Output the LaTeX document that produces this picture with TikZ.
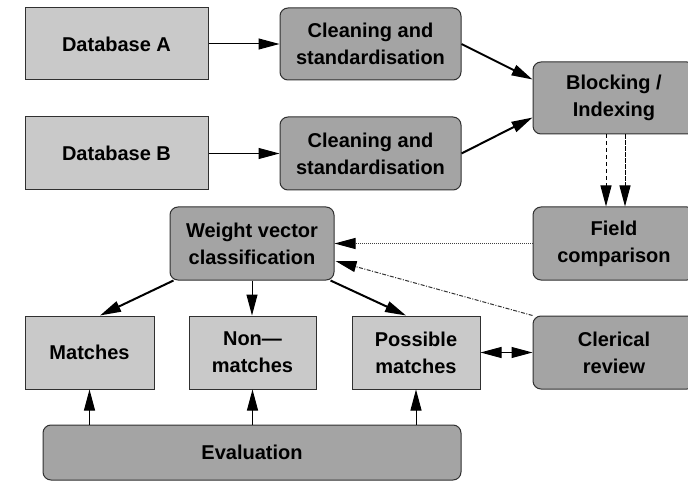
\documentclass[tikz,border=0pt]{standalone}
\usepackage{fontspec}
\setmainfont{Liberation Sans}
\usetikzlibrary{arrows.meta,calc}

\definecolor{boxlight}{HTML}{C9C9C9}
\definecolor{boxdark}{HTML}{A4A4A4}
\definecolor{edge}{HTML}{303030}

\tikzset{
  base/.style={draw=edge, line width=1pt, inner sep=0pt, align=center,
    font=\fontsize{20}{27}\selectfont\bfseries},
  datastore/.style={base, fill=boxlight},
  process/.style={base, fill=boxdark, rounded corners=8pt},
  tip/.style={-{Triangle[length=21pt,width=11pt,color=black]}},
  flow/.style={tip, line width=1pt, black},
  thickflow/.style={tip, line width=2pt, black},
  dashflow/.style={tip, line width=1pt, black, dash pattern=on 4pt off 3pt},
  fineflow/.style={tip, line width=1pt, black, dash pattern=on 5pt off 1pt},
  dotflow/.style={tip, line width=1pt, black!75, dash pattern=on 1pt off 1pt},
  dashdotflow/.style={tip, line width=1pt, black!80, dash pattern=on 4pt off 1.5pt on 1pt off 1.5pt},
  bothflow/.style={{Triangle[length=21pt,width=11pt]}-{Triangle[length=21pt,width=11pt]}, line width=1pt, black},
}

\begin{document}
\begin{tikzpicture}[x=1pt, y=-1pt]
\useasboundingbox (0,0) rectangle (688,481);
\clip (0,0) rectangle (688,481);

% data sources
\node[datastore, minimum width=183pt, minimum height=72pt] (dbA) at (116.5,44) {Database A};
\node[datastore, minimum width=183pt, minimum height=73pt] (dbB) at (116.5,153.5) {Database B};

% cleaning steps
\node[process, minimum width=181pt, minimum height=72pt] (clA) at (370.5,44) {Cleaning and\\standardisation};
\node[process, minimum width=181pt, minimum height=73pt] (clB) at (370.5,153.5) {Cleaning and\\standardisation};

% blocking and comparison (their right sides run past the page edge)
\node[process, minimum width=162pt, minimum height=72pt] (blk) at (614,98) {Blocking /\\Indexing};
\node[process, minimum width=162pt, minimum height=73pt] (fld) at (614,243.5) {Field\\comparison};

% classification
\node[process, minimum width=164pt, minimum height=73pt] (wgt) at (252,243.5) {Weight vector\\classification};

% outcomes
\node[datastore, minimum width=129pt, minimum height=73pt] (mat) at (89.5,352.5) {Matches};
\node[datastore, minimum width=127pt, minimum height=73pt] (non) at (252.5,352.5) {Non—\\matches};
\node[datastore, minimum width=128pt, minimum height=73pt] (pos) at (416,352.5) {Possible\\matches};
\node[process, minimum width=162pt, minimum height=73pt] (cle) at (614,352.5) {Clerical\\review};

% evaluation
\node[process, minimum width=418pt, minimum height=55pt] (eva) at (252,452.5) {Evaluation};

% connectors
\draw[flow] (dbA.east) -- (clA.west);
\draw[flow] (dbB.east) -- (clB.west);
\draw[thickflow] (clA.east) -- ($(blk.north west)+(0,18)$);
\draw[thickflow] (clB.east) -- ($(blk.south west)+(0,-17)$);
\draw[dashflow] ($(blk.south)+(-8,0)$) -- ($(fld.north)+(-8,0)$);
\draw[fineflow] ($(blk.south)+(11,0)$) -- ($(fld.north)+(11,0)$);
\draw[dotflow] (fld.west) -- (wgt.east);
\draw[dashdotflow] (cle.north west) -- ($(wgt.east)+(1,17.5)$);
\draw[thickflow] ($(wgt.south west)+(4,0)$) -- ($(mat.north)+(10.5,0)$);
\draw[flow] (wgt.south) -- (wgt.south |- non.north);
\draw[thickflow] ($(wgt.south east)+(-4,0)$) -- ($(pos.north)+(-10,0)$);
\draw[bothflow] (pos.east) -- (cle.west);
\draw[flow] (mat.south |- eva.north) -- (mat.south);
\draw[flow] (non.south |- eva.north) -- (non.south);
\draw[flow] (pos.south |- eva.north) -- (pos.south);
\end{tikzpicture}
\end{document}
